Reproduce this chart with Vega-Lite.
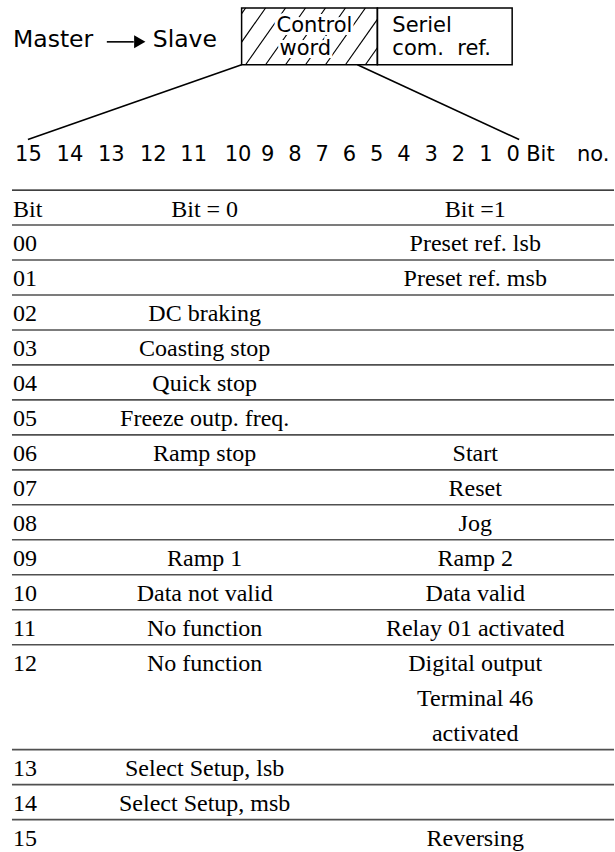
{
  "$schema": "https://vega.github.io/schema/vega-lite/v6.json",
  "width": 615,
  "height": 852,
  "padding": 0,
  "autosize": {"type": "fit", "contains": "padding"},
  "background": "white",
  "config": {"view": {"stroke": null}},
  "resolve": {"scale": {"x": "independent", "y": "independent"}},
  "datasets": {
    "boxes": [
      {"name": "Control word", "x": 242, "y": 8, "x2": 378, "y2": 65},
      {"name": "Seriel com. ref.", "x": 378, "y": 8, "x2": 513, "y2": 65}
    ],
    "hatch": [
      {"x": 242, "y": 13.7, "x2": 246, "y2": 8},
      {"x": 242, "y": 42.2, "x2": 266, "y2": 8},
      {"x": 246, "y": 65, "x2": 286, "y2": 8},
      {"x": 266, "y": 65, "x2": 306, "y2": 8},
      {"x": 286, "y": 65, "x2": 326, "y2": 8},
      {"x": 306, "y": 65, "x2": 346, "y2": 8},
      {"x": 326, "y": 65, "x2": 366, "y2": 8},
      {"x": 346, "y": 65, "x2": 378, "y2": 19.4},
      {"x": 366, "y": 65, "x2": 378, "y2": 47.9}
    ],
    "connectors": [
      {"x": 242, "y": 65, "x2": 28, "y2": 140},
      {"x": 358, "y": 65, "x2": 520, "y2": 140},
      {"x": 107, "y": 42, "x2": 134, "y2": 42}
    ],
    "arrowhead": [{"x": 140, "y": 42}],
    "halowords": [
      {"t": "Control", "x": 277, "y": 32},
      {"t": "word", "x": 280, "y": 55}
    ],
    "bigwords": [
      {"t": "Master", "x": 13, "y": 47},
      {"t": "Slave", "x": 153, "y": 47}
    ],
    "words": [
      {"t": "Seriel", "x": 393, "y": 32},
      {"t": "com.\u00a0 ref.", "x": 393, "y": 55},
      {"t": "Bit", "x": 527, "y": 162},
      {"t": "no.", "x": 578, "y": 162}
    ],
    "bits": [
      {"t": "15", "x": 28.5, "y": 162},
      {"t": "14", "x": 70, "y": 162},
      {"t": "13", "x": 111.5, "y": 162},
      {"t": "12", "x": 153.5, "y": 162},
      {"t": "11", "x": 194, "y": 162},
      {"t": "10", "x": 238.5, "y": 162},
      {"t": "9", "x": 268, "y": 162},
      {"t": "8", "x": 295.3, "y": 162},
      {"t": "7", "x": 322.7, "y": 162},
      {"t": "6", "x": 350, "y": 162},
      {"t": "5", "x": 377.3, "y": 162},
      {"t": "4", "x": 404.7, "y": 162},
      {"t": "3", "x": 432, "y": 162},
      {"t": "2", "x": 459.3, "y": 162},
      {"t": "1", "x": 486.7, "y": 162},
      {"t": "0", "x": 514, "y": 162}
    ],
    "table": [
      {"slot": 0.5, "bit": "Bit", "b0": "Bit = 0", "b1": "Bit =1"},
      {"slot": 1.5, "bit": "00", "b0": "", "b1": "Preset ref. lsb"},
      {"slot": 2.5, "bit": "01", "b0": "", "b1": "Preset ref. msb"},
      {"slot": 3.5, "bit": "02", "b0": "DC braking", "b1": ""},
      {"slot": 4.5, "bit": "03", "b0": "Coasting stop", "b1": ""},
      {"slot": 5.5, "bit": "04", "b0": "Quick stop", "b1": ""},
      {"slot": 6.5, "bit": "05", "b0": "Freeze outp. freq.", "b1": ""},
      {"slot": 7.5, "bit": "06", "b0": "Ramp stop", "b1": "Start"},
      {"slot": 8.5, "bit": "07", "b0": "", "b1": "Reset"},
      {"slot": 9.5, "bit": "08", "b0": "", "b1": "Jog"},
      {"slot": 10.5, "bit": "09", "b0": "Ramp 1", "b1": "Ramp 2"},
      {"slot": 11.5, "bit": "10", "b0": "Data not valid", "b1": "Data valid"},
      {"slot": 12.5, "bit": "11", "b0": "No function", "b1": "Relay 01 activated"},
      {"slot": 13.5, "bit": "12", "b0": "No function", "b1": "Digital output"},
      {"slot": 14.5, "bit": "", "b0": "", "b1": "Terminal 46"},
      {"slot": 15.5, "bit": "", "b0": "", "b1": "activated"},
      {"slot": 16.5, "bit": "13", "b0": "Select Setup, lsb", "b1": ""},
      {"slot": 17.5, "bit": "14", "b0": "Select Setup, msb", "b1": ""},
      {"slot": 18.5, "bit": "15", "b0": "", "b1": "Reversing"}
    ],
    "rows": [
      {"slot": 0, "kind": "top"},
      {"slot": 1, "kind": "row"}, {"slot": 2, "kind": "row"}, {"slot": 3, "kind": "row"},
      {"slot": 4, "kind": "row"}, {"slot": 5, "kind": "row"}, {"slot": 6, "kind": "row"},
      {"slot": 7, "kind": "row"}, {"slot": 8, "kind": "row"}, {"slot": 9, "kind": "row"},
      {"slot": 10, "kind": "row"}, {"slot": 11, "kind": "row"}, {"slot": 12, "kind": "row"},
      {"slot": 13, "kind": "row"}, {"slot": 16, "kind": "row"}, {"slot": 17, "kind": "row"},
      {"slot": 18, "kind": "row"}
    ]
  },
  "layer": [
    {
      "data": {"name": "hatch"},
      "mark": {"type": "rule", "color": "black", "strokeWidth": 1.2},
      "encoding": {
        "x": {"field": "x", "type": "quantitative", "scale": {"domain": [0, 615], "nice": false, "zero": false}, "axis": null},
        "y": {"field": "y", "type": "quantitative", "scale": {"domain": [0, 852], "nice": false, "zero": false, "reverse": true}, "axis": null},
        "x2": {"field": "x2"},
        "y2": {"field": "y2"}
      }
    },
    {
      "data": {"name": "boxes"},
      "mark": {"type": "rect", "filled": false, "color": "black", "strokeWidth": 1.5},
      "encoding": {
        "x": {"field": "x", "type": "quantitative", "scale": {"domain": [0, 615], "nice": false, "zero": false}, "axis": null},
        "y": {"field": "y", "type": "quantitative", "scale": {"domain": [0, 852], "nice": false, "zero": false, "reverse": true}, "axis": null},
        "x2": {"field": "x2"},
        "y2": {"field": "y2"}
      }
    },
    {
      "data": {"name": "connectors"},
      "mark": {"type": "rule", "color": "black", "strokeWidth": 1.6},
      "encoding": {
        "x": {"field": "x", "type": "quantitative", "scale": {"domain": [0, 615], "nice": false, "zero": false}, "axis": null},
        "y": {"field": "y", "type": "quantitative", "scale": {"domain": [0, 852], "nice": false, "zero": false, "reverse": true}, "axis": null},
        "x2": {"field": "x2"},
        "y2": {"field": "y2"}
      }
    },
    {
      "data": {"name": "arrowhead"},
      "mark": {"type": "point", "shape": "triangle-right", "filled": true, "color": "black", "size": 170, "opacity": 1},
      "encoding": {
        "x": {"field": "x", "type": "quantitative", "scale": {"domain": [0, 615], "nice": false, "zero": false}, "axis": null},
        "y": {"field": "y", "type": "quantitative", "scale": {"domain": [0, 852], "nice": false, "zero": false, "reverse": true}, "axis": null}
      }
    },
    {
      "data": {"name": "halowords"},
      "mark": {"type": "text", "font": "DejaVu Sans", "fontSize": 21, "align": "left", "baseline": "alphabetic", "color": "white", "stroke": "white", "strokeWidth": 6},
      "encoding": {
        "x": {"field": "x", "type": "quantitative", "scale": {"domain": [0, 615], "nice": false, "zero": false}, "axis": null},
        "y": {"field": "y", "type": "quantitative", "scale": {"domain": [0, 852], "nice": false, "zero": false, "reverse": true}, "axis": null},
        "text": {"field": "t"}
      }
    },
    {
      "data": {"name": "halowords"},
      "mark": {"type": "text", "font": "DejaVu Sans", "fontSize": 21, "align": "left", "baseline": "alphabetic", "color": "black"},
      "encoding": {
        "x": {"field": "x", "type": "quantitative", "scale": {"domain": [0, 615], "nice": false, "zero": false}, "axis": null},
        "y": {"field": "y", "type": "quantitative", "scale": {"domain": [0, 852], "nice": false, "zero": false, "reverse": true}, "axis": null},
        "text": {"field": "t"}
      }
    },
    {
      "data": {"name": "bigwords"},
      "mark": {"type": "text", "font": "DejaVu Sans", "fontSize": 23.5, "align": "left", "baseline": "alphabetic", "color": "black"},
      "encoding": {
        "x": {"field": "x", "type": "quantitative", "scale": {"domain": [0, 615], "nice": false, "zero": false}, "axis": null},
        "y": {"field": "y", "type": "quantitative", "scale": {"domain": [0, 852], "nice": false, "zero": false, "reverse": true}, "axis": null},
        "text": {"field": "t"}
      }
    },
    {
      "data": {"name": "words"},
      "mark": {"type": "text", "font": "DejaVu Sans", "fontSize": 21, "align": "left", "baseline": "alphabetic", "color": "black"},
      "encoding": {
        "x": {"field": "x", "type": "quantitative", "scale": {"domain": [0, 615], "nice": false, "zero": false}, "axis": null},
        "y": {"field": "y", "type": "quantitative", "scale": {"domain": [0, 852], "nice": false, "zero": false, "reverse": true}, "axis": null},
        "text": {"field": "t"}
      }
    },
    {
      "data": {"name": "bits"},
      "mark": {"type": "text", "font": "DejaVu Sans", "fontSize": 21, "align": "center", "baseline": "alphabetic", "color": "black"},
      "encoding": {
        "x": {"field": "x", "type": "quantitative", "scale": {"domain": [0, 615], "nice": false, "zero": false}, "axis": null},
        "y": {"field": "y", "type": "quantitative", "scale": {"domain": [0, 852], "nice": false, "zero": false, "reverse": true}, "axis": null},
        "text": {"field": "t"}
      }
    },
    {
      "data": {"name": "rows"},
      "transform": [{"filter": "datum.kind === 'row'"}],
      "mark": {"type": "rule", "color": "#505050", "strokeWidth": 1.6},
      "encoding": {
        "x": {"datum": 12, "type": "quantitative", "scale": {"domain": [0, 615], "nice": false, "zero": false}, "axis": null},
        "x2": {"datum": 615},
        "y": {"field": "slot", "type": "quantitative", "scale": {"domain": [-5.433, 18.84], "nice": false, "zero": false, "reverse": true}, "axis": null}
      }
    },
    {
      "data": {"name": "rows"},
      "transform": [{"filter": "datum.kind === 'top'"}],
      "mark": {"type": "rule", "color": "black", "strokeWidth": 1.3},
      "encoding": {
        "x": {"datum": 12, "type": "quantitative", "scale": {"domain": [0, 615], "nice": false, "zero": false}, "axis": null},
        "x2": {"datum": 615},
        "y": {"field": "slot", "type": "quantitative", "scale": {"domain": [-5.433, 18.84], "nice": false, "zero": false, "reverse": true}, "axis": null}
      }
    },
    {
      "data": {"name": "table"},
      "mark": {"type": "text", "font": "Liberation Serif", "fontSize": 24, "align": "left", "baseline": "alphabetic", "dy": 9, "color": "black"},
      "encoding": {
        "x": {"datum": 13, "type": "quantitative", "scale": {"domain": [0, 615], "nice": false, "zero": false}, "axis": null},
        "y": {"field": "slot", "type": "quantitative", "scale": {"domain": [-5.433, 18.84], "nice": false, "zero": false, "reverse": true}, "axis": null},
        "text": {"field": "bit"}
      }
    },
    {
      "data": {"name": "table"},
      "mark": {"type": "text", "font": "Liberation Serif", "fontSize": 24, "align": "center", "baseline": "alphabetic", "dy": 9, "color": "black"},
      "encoding": {
        "x": {"datum": 205, "type": "quantitative", "scale": {"domain": [0, 615], "nice": false, "zero": false}, "axis": null},
        "y": {"field": "slot", "type": "quantitative", "scale": {"domain": [-5.433, 18.84], "nice": false, "zero": false, "reverse": true}, "axis": null},
        "text": {"field": "b0"}
      }
    },
    {
      "data": {"name": "table"},
      "mark": {"type": "text", "font": "Liberation Serif", "fontSize": 24, "align": "center", "baseline": "alphabetic", "dy": 9, "color": "black"},
      "encoding": {
        "x": {"datum": 476, "type": "quantitative", "scale": {"domain": [0, 615], "nice": false, "zero": false}, "axis": null},
        "y": {"field": "slot", "type": "quantitative", "scale": {"domain": [-5.433, 18.84], "nice": false, "zero": false, "reverse": true}, "axis": null},
        "text": {"field": "b1"}
      }
    }
  ]
}
